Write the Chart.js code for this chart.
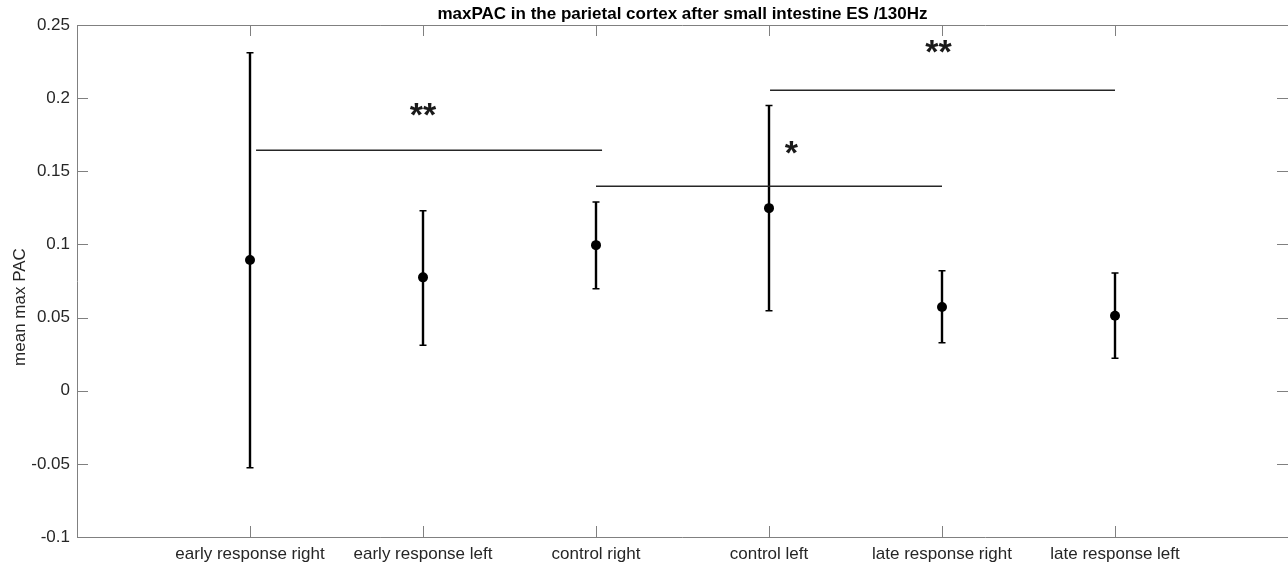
<!DOCTYPE html>
<html>
<head>
<meta charset="utf-8">
<script src="https://cdn.jsdelivr.net/npm/chart.js@4.4.1/dist/chart.umd.min.js"></script>
<style>
  html, body { margin: 0; padding: 0; background: #fff; }
  canvas { display: block; }
</style>
</head>
<body>
<canvas id="grafico" width="1288" height="569"></canvas>
<script>
// categorias e valores
const categorias = ['early response right', 'early response left', 'control right', 'control left', 'late response right', 'late response left'];
const medias = [0.0893, 0.0775, 0.0995, 0.1248, 0.0572, 0.0512];
const errSup = [0.231, 0.123, 0.129, 0.195, 0.082, 0.0805];
const errInf = [-0.0526, 0.031, 0.0697, 0.0546, 0.0328, 0.0222];
const yTicks = [-0.1, -0.05, 0, 0.05, 0.1, 0.15, 0.2, 0.25];

// linhas de significancia (em posicoes de categoria) e asteriscos
const sigInicio = [1.035, 3.0, 4.006];
const sigFim = [3.035, 5.0, 6.0];
const sigY = [0.1644, 0.1398, 0.2054];
const estrelas = ['**', '*', '**'];
const estrelaX = [2.0, 4.13, 4.98];
const estrelaY = [0.193, 0.167, 0.236];

const fonte = '"Liberation Sans", Arial, sans-serif';
const corEixo = '#808080';

const pontos = medias.map((m, i) => ({ x: i + 1, y: m }));

const linhasSig = sigY.map((y, i) => ({
    type: 'line',
    data: [{ x: sigInicio[i], y: y }, { x: sigFim[i], y: y }],
    borderColor: '#262626',
    borderWidth: 1.5,
    pointRadius: 0,
    showLine: true,
    fill: false
}));

const pluginDesenho = {
    id: 'desenho',
    beforeDatasetsDraw(chart) {
        const { ctx, scales: { x, y } } = chart;
        ctx.save();
        ctx.strokeStyle = '#000';
        medias.forEach((m, i) => {
            const px = x.getPixelForValue(i + 1);
            const top = y.getPixelForValue(errSup[i]);
            const bot = y.getPixelForValue(errInf[i]);
            ctx.lineWidth = 2.4;
            ctx.beginPath();
            ctx.moveTo(px, top);
            ctx.lineTo(px, bot);
            ctx.stroke();
            ctx.lineWidth = 1.5;
            ctx.beginPath();
            ctx.moveTo(px - 3.5, top);
            ctx.lineTo(px + 3.5, top);
            ctx.moveTo(px - 3.5, bot);
            ctx.lineTo(px + 3.5, bot);
            ctx.stroke();
        });
        ctx.restore();
    },
    afterDraw(chart) {
        const { ctx, chartArea: a, scales: { x, y } } = chart;
        ctx.save();
        // eixos e ticks para dentro, estilo matlab (a borda direita fica fora da imagem)
        ctx.strokeStyle = corEixo;
        ctx.lineWidth = 1;
        ctx.beginPath();
        ctx.moveTo(a.right, a.top + 0.5);
        ctx.lineTo(a.left + 0.5, a.top + 0.5);
        ctx.lineTo(a.left + 0.5, a.bottom + 0.5);
        ctx.lineTo(a.right, a.bottom + 0.5);
        categorias.forEach((c, i) => {
            const px = Math.round(x.getPixelForValue(i + 1)) + 0.5;
            ctx.moveTo(px, a.bottom);
            ctx.lineTo(px, a.bottom - 11);
            ctx.moveTo(px, a.top);
            ctx.lineTo(px, a.top + 11);
        });
        yTicks.forEach(v => {
            const py = Math.round(y.getPixelForValue(v)) + 0.5;
            ctx.moveTo(a.left, py);
            ctx.lineTo(a.left + 11, py);
            ctx.moveTo(a.right, py);
            ctx.lineTo(a.right - 11, py);
        });
        ctx.stroke();

        // asteriscos
        ctx.fillStyle = '#1a1a1a';
        ctx.font = 'bold 34px ' + fonte;
        ctx.textAlign = 'center';
        ctx.textBaseline = 'middle';
        estrelas.forEach((s, i) => {
            ctx.fillText(s, x.getPixelForValue(estrelaX[i]), y.getPixelForValue(estrelaY[i]) + 8);
        });

        // titulo do eixo y
        ctx.fillStyle = '#262626';
        ctx.font = '17px ' + fonte;
        ctx.translate(20, 307);
        ctx.rotate(-Math.PI / 2);
        ctx.fillText('mean max PAC', 0, 0);
        ctx.restore();
    }
};

new Chart(document.getElementById('grafico'), {
    type: 'scatter',
    data: {
        datasets: [
            {
                label: 'maxPAC',
                data: pontos,
                backgroundColor: '#000',
                borderColor: '#000',
                pointRadius: 5,
                pointBorderWidth: 0
            },
            ...linhasSig
        ]
    },
    options: {
        responsive: false,
        devicePixelRatio: 1,
        animation: false,
        layout: { padding: 0, autoPadding: false },
        plugins: {
            legend: { display: false },
            tooltip: { enabled: false },
            title: {
                display: true,
                fullSize: false,
                text: 'maxPAC in the parietal cortex after small intestine ES /130Hz',
                color: '#000',
                font: { family: fonte, size: 17, weight: 'bold' },
                padding: { top: 4.5, bottom: 0.1 }
            }
        },
        scales: {
            x: {
                type: 'linear',
                min: 0,
                max: 7,
                grid: { display: false, drawTicks: false },
                border: { display: false },
                afterBuildTicks: s => { s.ticks = categorias.map((c, i) => ({ value: i + 1 })); },
                afterFit: s => { s.height = 32; s.paddingLeft = 0; s.paddingRight = 0; },
                ticks: {
                    autoSkip: false,
                    maxRotation: 0,
                    padding: 7,
                    color: '#262626',
                    font: { family: fonte, size: 17 },
                    callback: v => categorias[v - 1]
                }
            },
            y: {
                min: -0.1,
                max: 0.25,
                grid: { display: false, drawTicks: false },
                border: { display: false },
                afterBuildTicks: s => { s.ticks = yTicks.map(v => ({ value: v })); },
                afterFit: s => { s.width = 77; },
                ticks: {
                    padding: 7,
                    color: '#262626',
                    font: { family: fonte, size: 17 },
                    callback: v => String(+v.toFixed(2))
                }
            }
        }
    },
    plugins: [pluginDesenho]
});
</script>
</body>
</html>
